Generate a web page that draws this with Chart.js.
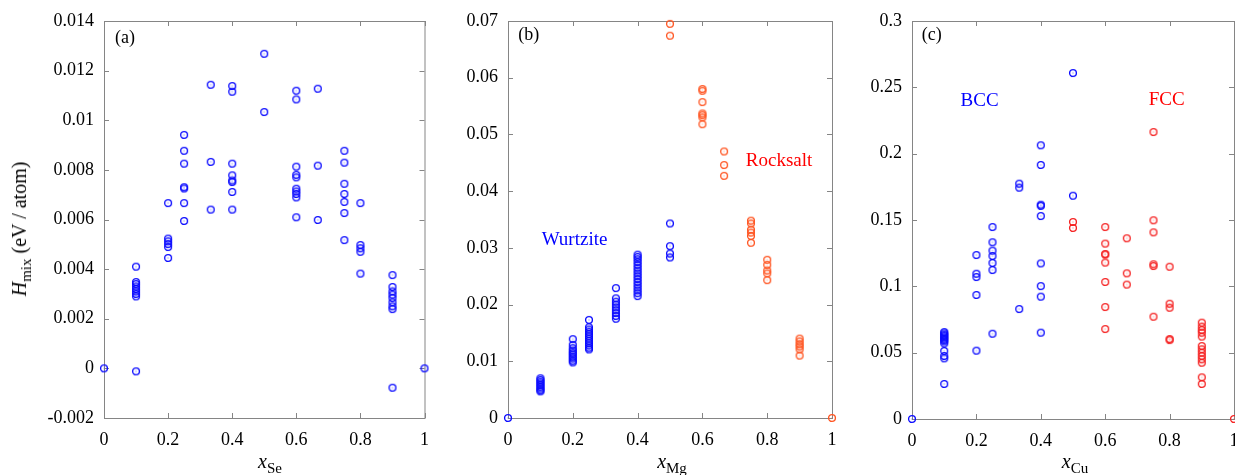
<!DOCTYPE html>
<html>
<head>
<meta charset="utf-8">
<script src="https://cdn.jsdelivr.net/npm/chart.js@4"></script>
<style>
  html, body { margin: 0; padding: 0; background: #fff; overflow: hidden; }
  body { width: 1235px; height: 475px; position: relative; font-family: "Liberation Serif", "DejaVu Serif", serif; }
  .panel { position: absolute; top: 0; }
  .panel canvas { display: block; }
  .xt { position: absolute; top: 451px; font-size: 20px; line-height: 20px; transform: translateX(-50%); white-space: nowrap; color: #000; }
  .xt sub, .yt sub { font-size: 15px; vertical-align: -5px; line-height: 0; }
  .yt { position: absolute; left: 19px; top: 229px; font-size: 20px; line-height: 20px; white-space: nowrap; color: #000;
        transform: translate(-50%, -50%) rotate(-90deg); }
</style>
</head>
<body>
<div class="panel" style="left:0px"><canvas id="chartSe" width="440" height="475"></canvas></div>
<div class="panel" style="left:440px"><canvas id="chartMg" width="410" height="475"></canvas></div>
<div class="panel" style="left:850px"><canvas id="chartCu" width="400" height="475"></canvas></div>
<div class="yt"><i>H</i><sub>mix</sub> (eV / atom)</div>
<div class="xt" style="left:270px"><i>x</i><sub>Se</sub></div>
<div class="xt" style="left:672px"><i>x</i><sub>Mg</sub></div>
<div class="xt" style="left:1075px"><i>x</i><sub>Cu</sub></div>

<script>
// (a) x_Se : compositions and H_mix values at each composition
const seComp = [0, 0.1, 0.2, 0.25, 0.333, 0.4, 0.5, 0.6, 0.667, 0.75, 0.8, 0.9, 1];
const seH = [
  [0],
  [0.0041, 0.00348, 0.0034, 0.0033, 0.0032, 0.0031, 0.003, 0.0029, -0.00012],
  [0.00666, 0.00523, 0.00512, 0.00501, 0.00489, 0.00445],
  [0.00941, 0.00877, 0.00825, 0.0073, 0.00725, 0.00666, 0.00594],
  [0.01143, 0.00832, 0.0064],
  [0.01138, 0.01115, 0.00825, 0.00778, 0.00757, 0.00751, 0.00711, 0.0064],
  [0.01268, 0.01033],
  [0.01119, 0.01084, 0.00813, 0.0078, 0.0077, 0.00724, 0.00713, 0.00703, 0.00689, 0.00609],
  [0.01127, 0.00817, 0.00598],
  [0.00877, 0.00829, 0.00744, 0.00703, 0.00671, 0.00626, 0.00517],
  [0.00666, 0.00497, 0.00484, 0.0047, 0.00382],
  [0.00376, 0.00328, 0.0031, 0.00297, 0.00284, 0.00266, 0.0025, 0.00239, -0.00078],
  [0]
];

// (b) x_Mg : wurtzite and rocksalt
const wzComp = [0, 0.1, 0.2, 0.25, 0.333, 0.4, 0.5];
const wzH = [
  [0],
  [0.007, 0.0067, 0.0064, 0.0061, 0.0058, 0.0055, 0.0052, 0.0049, 0.0047],
  [0.0139, 0.0129, 0.0123, 0.0119, 0.0115, 0.0112, 0.0108, 0.0105, 0.0101, 0.0098],
  [0.0173, 0.016, 0.0156, 0.0152, 0.0148, 0.0144, 0.014, 0.0136, 0.0132, 0.0128, 0.0124, 0.0121],
  [0.0229, 0.0211, 0.0205, 0.02, 0.0195, 0.019, 0.0185, 0.018, 0.0175],
  [0.0288, 0.0284, 0.028, 0.0275, 0.027, 0.0265, 0.026, 0.0255, 0.025, 0.0245, 0.024, 0.0235, 0.023, 0.0225, 0.022, 0.0215],
  [0.0343, 0.0303, 0.029, 0.0283]
];
const rsComp = [0.5, 0.6, 0.667, 0.75, 0.8, 0.9, 1];
const rsH = [
  [0.0695, 0.0674],
  [0.058, 0.0577, 0.0557, 0.0537, 0.0534, 0.053, 0.0518],
  [0.047, 0.0446, 0.0427],
  [0.0348, 0.0343, 0.0332, 0.0327, 0.0321, 0.0309],
  [0.0279, 0.027, 0.026, 0.0255, 0.0243],
  [0.014, 0.0135, 0.013, 0.0126, 0.0121, 0.011],
  [0]
];

// (c) x_Cu : bcc and fcc
const bccComp = [0, 0.1, 0.2, 0.25, 0.333, 0.4, 0.5];
const bccH = [
  [0],
  [0.0655, 0.0645, 0.0635, 0.0625, 0.0615, 0.0605, 0.0595, 0.0585, 0.057, 0.0513, 0.0475, 0.0457, 0.0264],
  [0.1236, 0.1095, 0.107, 0.0935, 0.0515],
  [0.1447, 0.1332, 0.1269, 0.1229, 0.1176, 0.1123, 0.0643],
  [0.1774, 0.1744, 0.0829],
  [0.2063, 0.1915, 0.1615, 0.1606, 0.153, 0.1173, 0.1002, 0.0922, 0.0651],
  [0.2608, 0.1683]
];
const fccComp = [0.5, 0.6, 0.667, 0.75, 0.8, 0.9, 1];
const fccH = [
  [0.1485, 0.144],
  [0.1447, 0.1322, 0.1244, 0.1239, 0.1179, 0.1033, 0.0844, 0.0678],
  [0.1362, 0.1098, 0.1013],
  [0.2163, 0.1498, 0.1407, 0.1166, 0.1153, 0.0771],
  [0.1148, 0.0869, 0.0839, 0.0603, 0.0595],
  [0.0726, 0.0696, 0.0671, 0.0651, 0.0621, 0.055, 0.0525, 0.05, 0.0475, 0.045, 0.0424, 0.0314, 0.0264],
  [0]
];

const xTicks = { min: 0, max: 1, step: 0.2 };

const BLUE = '#0a0aff';
const ORANGE = '#ff5522';
const RED = '#f52222';
const FONT = '"Liberation Serif", "DejaVu Serif", serif';

function toPoints(comp, vals) {
  const pts = [];
  comp.forEach((c, i) => vals[i].forEach(v => pts.push({ x: c, y: v })));
  return pts;
}

// open circle with a small dot in the middle
function marker(color) {
  const c = document.createElement('canvas');
  c.width = 10; c.height = 10;
  const g = c.getContext('2d');
  g.strokeStyle = color;
  g.lineWidth = 1.35;
  g.beginPath();
  g.arc(5, 5, 3.4, 0, Math.PI * 2);
  g.stroke();
  g.fillStyle = color;
  g.globalAlpha = 0.6;
  g.fillRect(4.5, 4.5, 1, 1);
  return c;
}

const fmt = v => String(+v.toFixed(4));

// grey box with inward ticks on all four sides, plus in-plot labels
const framePlugin = {
  id: 'frame',
  beforeDatasetsDraw(chart) {
    const { ctx, chartArea: a, scales } = chart;
    ctx.save();
    ctx.strokeStyle = '#858585';
    ctx.lineWidth = 1;
    ctx.beginPath();
    scales.x.ticks.forEach(t => {
      const px = Math.round(scales.x.getPixelForValue(t.value)) + 0.5;
      ctx.moveTo(px, a.bottom); ctx.lineTo(px, a.bottom - 5);
      ctx.moveTo(px, a.top); ctx.lineTo(px, a.top + 5);
    });
    scales.y.ticks.forEach(t => {
      const py = Math.round(scales.y.getPixelForValue(t.value)) + 0.5;
      ctx.moveTo(a.left, py); ctx.lineTo(a.left + 5, py);
      ctx.moveTo(a.right, py); ctx.lineTo(a.right - 5, py);
    });
    ctx.stroke();
    ctx.strokeRect(a.left + 0.5, a.top + 0.5, a.right - a.left, a.bottom - a.top);
    ctx.restore();
  },
  afterDatasetsDraw(chart, args, opts) {
    const { ctx, scales } = chart;
    ctx.save();
    ctx.textAlign = 'left';
    ctx.textBaseline = 'middle';
    (opts.labels || []).forEach(l => {
      ctx.font = l.size + 'px ' + FONT;
      ctx.fillStyle = l.color;
      ctx.fillText(l.text, scales.x.getPixelForValue(l.x), scales.y.getPixelForValue(l.y));
    });
    ctx.restore();
  }
};

function makeChart(id, datasets, yMin, yMax, yStep, yWidth, xHeight, padRight, labels) {
  return new Chart(document.getElementById(id), {
    type: 'scatter',
    data: { datasets },
    options: {
      responsive: false,
      animation: false,
      layout: { padding: { top: 21, right: padRight, left: 0, bottom: 0 } },
      plugins: { legend: { display: false }, tooltip: { enabled: false }, frame: { labels } },
      scales: {
        x: {
          type: 'linear', min: xTicks.min, max: xTicks.max,
          grid: { display: false, drawTicks: false }, border: { display: false },
          ticks: { stepSize: xTicks.step, padding: 11, color: '#000', maxRotation: 0,
                   font: { family: FONT, size: 18 }, callback: fmt },
          afterFit: s => { s.height = xHeight; }
        },
        y: {
          type: 'linear', min: yMin, max: yMax,
          grid: { display: false, drawTicks: false }, border: { display: false },
          ticks: { stepSize: yStep, padding: 10, color: '#000',
                   font: { family: FONT, size: 18 }, callback: fmt },
          afterFit: s => { s.width = yWidth; }
        }
      }
    },
    plugins: [framePlugin]
  });
}

function ds(points, color) {
  return { data: points, pointStyle: marker(color), pointRadius: 4, clip: false, showLine: false };
}

makeChart('chartSe', [ds(toPoints(seComp, seH), BLUE)],
  -0.002, 0.014, 0.002, 104, 57, 12,
  [{ text: '(a)', x: 0.034, y: 0.0133, color: '#000', size: 18 }]);

makeChart('chartMg', [ds(toPoints(wzComp, wzH), BLUE), ds(toPoints(rsComp, rsH), ORANGE)],
  0, 0.07, 0.01, 68, 57, 18,
  [{ text: '(b)', x: 0.032, y: 0.0675, color: '#000', size: 18 },
   { text: 'Wurtzite', x: 0.104, y: 0.0314, color: '#0000ff', size: 19 },
   { text: 'Rocksalt', x: 0.734, y: 0.0453, color: '#ff0000', size: 19 }]);

makeChart('chartCu', [ds(toPoints(bccComp, bccH), BLUE), ds(toPoints(fccComp, fccH), RED)],
  0, 0.3, 0.05, 62, 56, 16,
  [{ text: '(c)', x: 0.03, y: 0.2894, color: '#000', size: 18 },
   { text: 'BCC', x: 0.151, y: 0.2399, color: '#0000ff', size: 19 },
   { text: 'FCC', x: 0.735, y: 0.2405, color: '#ff0000', size: 19 }]);
</script>
</body>
</html>
